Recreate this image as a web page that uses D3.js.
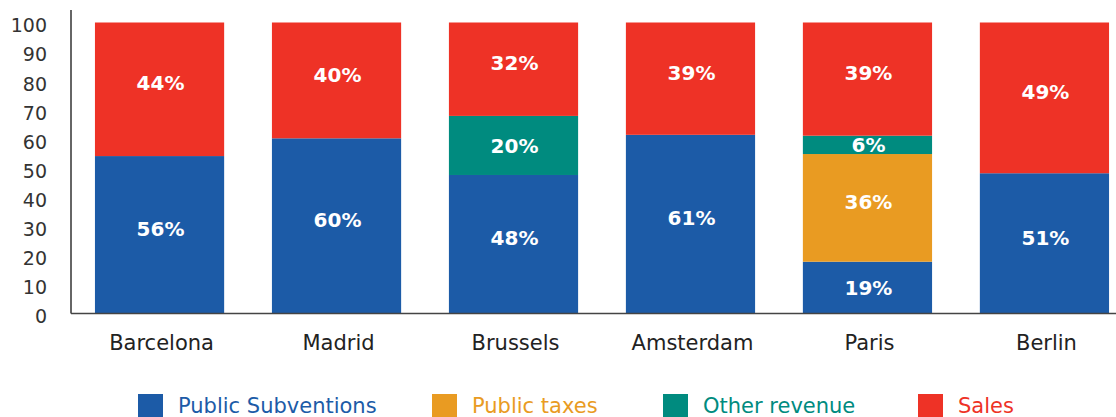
<!DOCTYPE html>
<html>
<head>
<meta charset="utf-8">
<script src="https://cdn.jsdelivr.net/npm/d3@7"></script>
<style>
  html, body { margin: 0; padding: 0; background: #fff; }
  svg { display: block; }
  text { font-family: "DejaVu Sans", sans-serif; }
</style>
</head>
<body>
<svg id="chart" width="1116" height="417"></svg>
<script>
// ---- data ----
const cities = ["Barcelona", "Madrid", "Brussels", "Amsterdam", "Paris", "Berlin"];
const seriesNames = ["Public Subventions", "Public taxes", "Other revenue", "Sales"];
const seriesColors = ["#1c5ba7", "#e99b22", "#008b7f", "#ee3226"];
// drawn segment heights
const publicSubventions = [54.1, 60.2, 47.6, 61.4, 17.8, 48.2];
const publicTaxes       = [0, 0, 0, 0, 37.0, 0];
const otherRevenue      = [0, 0, 20.3, 0, 6.3, 0];
const sales             = [45.9, 39.8, 32.1, 38.6, 38.9, 51.8];
// printed labels
const publicSubventionsLabels = ["56%", "60%", "48%", "61%", "19%", "51%"];
const publicTaxesLabels       = ["", "", "", "", "36%", ""];
const otherRevenueLabels      = ["", "", "20%", "", "6%", ""];
const salesLabels             = ["44%", "40%", "32%", "39%", "39%", "49%"];
const yTicks = [0, 10, 20, 30, 40, 50, 60, 70, 80, 90, 100];

const seriesValues = [publicSubventions, publicTaxes, otherRevenue, sales];
const seriesLabels = [publicSubventionsLabels, publicTaxesLabels, otherRevenueLabels, salesLabels];

// ---- layout ----
const svg = d3.select("#chart");
const axisX = 71, baseY = 313.5;

const x = d3.scaleBand().domain(cities).range([70, 1134]).paddingInner(0.27).paddingOuter(0.141);
const y = d3.scaleLinear().domain([0, 100]).range([baseY, 22.5]);

const rows = cities.map((c, i) => {
  const r = { city: c };
  seriesNames.forEach((s, k) => { r[s] = seriesValues[k][i]; });
  return r;
});
const stacked = d3.stack().keys(seriesNames)(rows);

const g = svg.append("g");
stacked.forEach((layer, k) => {
  g.selectAll(null).data(layer).enter()
    .filter(d => d[1] - d[0] > 0)
    .append("rect")
    .attr("x", d => x(d.data.city))
    .attr("width", x.bandwidth())
    .attr("y", d => y(d[1]))
    .attr("height", d => y(d[0]) - y(d[1]))
    .attr("fill", seriesColors[k]);
});

// segment labels
stacked.forEach((layer, k) => {
  layer.forEach((d, i) => {
    const lbl = seriesLabels[k][i];
    if (!lbl) return;
    const h = y(d[0]) - y(d[1]);
    const shift = h > 80 ? -6 : 0;
    g.append("text")
      .attr("x", x(d.data.city) + x.bandwidth() / 2 + 1)
      .attr("y", (y(d[0]) + y(d[1])) / 2 + shift)
      .attr("dy", "0.36em")
      .attr("text-anchor", "middle")
      .attr("font-size", 20)
      .attr("font-weight", "bold")
      .attr("fill", "#fff")
      .text(lbl);
  });
});

// axes lines
svg.append("line").attr("x1", axisX).attr("x2", axisX).attr("y1", 10).attr("y2", baseY)
  .attr("stroke", "#333").attr("stroke-width", 1.5);
svg.append("line").attr("x1", axisX).attr("x2", 1116).attr("y1", baseY).attr("y2", baseY)
  .attr("stroke", "#444").attr("stroke-width", 1.5);

// y tick labels
svg.append("g").selectAll("text").data(yTicks).enter().append("text")
  .attr("x", 47)
  .attr("y", d => y(d) + 3)
  .attr("dy", "0.36em")
  .attr("text-anchor", "end")
  .attr("font-size", 19)
  .attr("fill", "#333")
  .text(d => d);

// category labels
svg.append("g").selectAll("text").data(cities).enter().append("text")
  .attr("x", d => x(d) + x.bandwidth() / 2 + 2)
  .attr("y", 350)
  .attr("text-anchor", "middle")
  .attr("font-size", 21)
  .attr("fill", "#222")
  .text(d => d);

// legend
const legendX = [138, 432, 663, 918];
const leg = svg.append("g");
seriesNames.forEach((s, k) => {
  leg.append("rect").attr("x", legendX[k]).attr("y", 394).attr("width", 25).attr("height", 24)
    .attr("fill", seriesColors[k]);
  leg.append("text").attr("x", legendX[k] + 40).attr("y", 413)
    .attr("font-size", 21).attr("fill", seriesColors[k]).text(s);
});
</script>
</body>
</html>
